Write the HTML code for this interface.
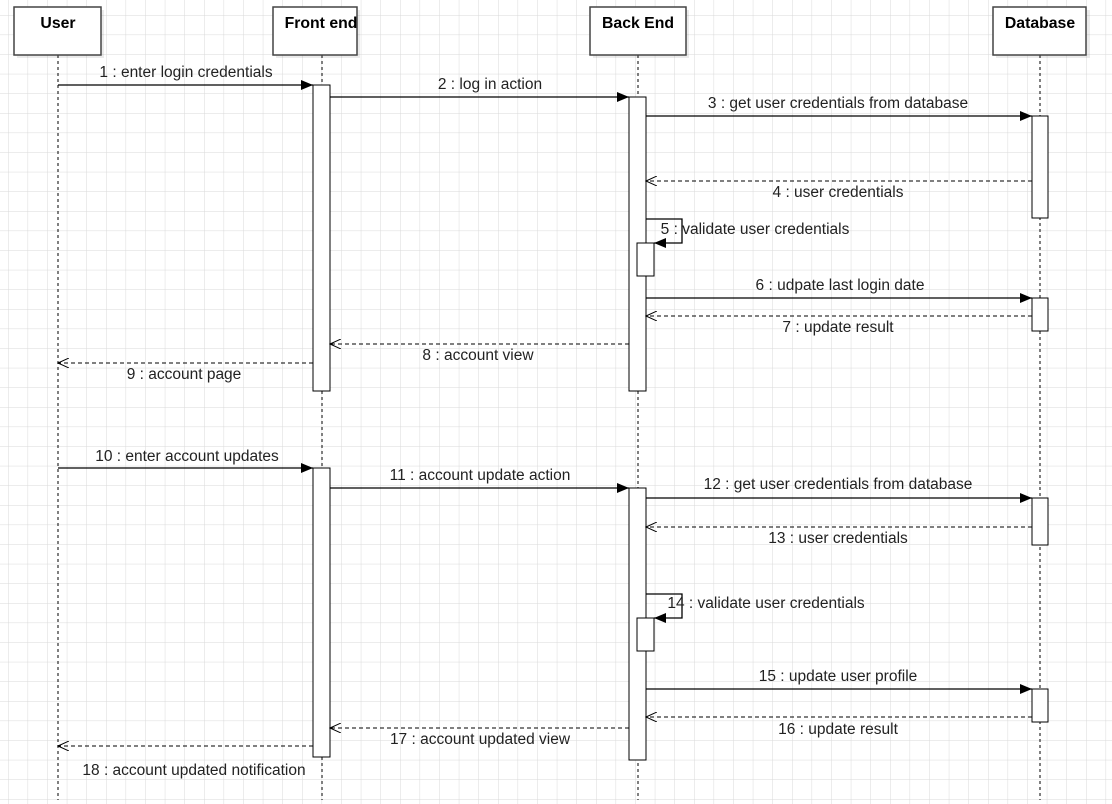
<!DOCTYPE html>
<html><head><meta charset="utf-8"><style>
html,body{margin:0;padding:0;background:#fff}
svg{display:block}
text{font-family:"Liberation Sans",Arial,sans-serif;font-size:15.5px;fill:#222}
.h{font-weight:bold;fill:#000;font-size:15.8px}
</style></head><body>
<svg width="1112" height="804" viewBox="0 0 1112 804">
<defs>
<pattern id="g" x="8" y="15" width="19.6" height="19.6" patternUnits="userSpaceOnUse">
<path d="M0 0H19.6M0 0V19.6" stroke="#d9d9d9" stroke-width="1" fill="none"/>
</pattern>
<marker id="a" markerWidth="12" markerHeight="10" refX="12" refY="5" orient="auto" markerUnits="userSpaceOnUse"><path d="M0 0L12 5L0 10z" fill="#000"/></marker>
<marker id="o" markerWidth="12" markerHeight="10" refX="11" refY="5" orient="auto" markerUnits="userSpaceOnUse"><path d="M0 0L11 5L0 10" fill="none" stroke="#000"/></marker>
</defs>
<rect width="1112" height="804" fill="url(#g)"/>
<g fill="#000" opacity="0.08">
<rect x="17" y="10" width="87" height="48"/><rect x="276" y="10" width="84" height="48"/>
<rect x="593" y="10" width="96" height="48"/><rect x="996" y="10" width="94" height="48"/>
</g>
<g stroke="#000" stroke-width="1" stroke-dasharray="3,3">
<line x1="58" y1="55" x2="58" y2="800"/><line x1="322" y1="55" x2="322" y2="800"/>
<line x1="638" y1="55" x2="638" y2="800"/><line x1="1040" y1="55" x2="1040" y2="800"/>
</g>
<g fill="#fff" stroke="#444" stroke-width="1.5">
<rect x="14" y="7" width="87" height="48"/><rect x="273" y="7" width="84" height="48"/>
<rect x="590" y="7" width="96" height="48"/><rect x="993" y="7" width="93" height="48"/>
</g>
<text class="h" x="58" y="28" text-anchor="middle">User</text>
<text class="h" x="321" y="28" text-anchor="middle">Front end</text>
<text class="h" x="638" y="28" text-anchor="middle">Back End</text>
<text class="h" x="1040" y="28" text-anchor="middle">Database</text>
<g fill="#fff" stroke="#000" stroke-width="1">
<rect x="313" y="85" width="17" height="306"/><rect x="313" y="468" width="17" height="289"/>
<rect x="629" y="97" width="17" height="294"/><rect x="629" y="488" width="17" height="272"/>
<rect x="637" y="243" width="17" height="33"/><rect x="637" y="618" width="17" height="33"/>
<rect x="1032" y="116" width="16" height="102"/><rect x="1032" y="298" width="16" height="33"/>
<rect x="1032" y="498" width="16" height="47"/><rect x="1032" y="689" width="16" height="33"/>
</g>
<g stroke="#000" stroke-width="1.3" fill="none">
<line x1="58" y1="85" x2="313" y2="85" marker-end="url(#a)"/>
<line x1="330" y1="97" x2="629" y2="97" marker-end="url(#a)"/>
<line x1="646" y1="116" x2="1032" y2="116" marker-end="url(#a)"/>
<line x1="646" y1="298" x2="1032" y2="298" marker-end="url(#a)"/>
<line x1="58" y1="468" x2="313" y2="468" marker-end="url(#a)"/>
<line x1="330" y1="488" x2="629" y2="488" marker-end="url(#a)"/>
<line x1="646" y1="498" x2="1032" y2="498" marker-end="url(#a)"/>
<line x1="646" y1="689" x2="1032" y2="689" marker-end="url(#a)"/>
<path d="M646 219H682V243H654" marker-end="url(#a)"/>
<path d="M646 594H682V618H654" marker-end="url(#a)"/>
</g>
<g stroke="#000" stroke-width="1" fill="none" stroke-dasharray="4,3">
<line x1="1032" y1="181" x2="646" y2="181" marker-end="url(#o)"/>
<line x1="1032" y1="316" x2="646" y2="316" marker-end="url(#o)"/>
<line x1="629" y1="344" x2="330" y2="344" marker-end="url(#o)"/>
<line x1="313" y1="363" x2="58" y2="363" marker-end="url(#o)"/>
<line x1="1032" y1="527" x2="646" y2="527" marker-end="url(#o)"/>
<line x1="1032" y1="717" x2="646" y2="717" marker-end="url(#o)"/>
<line x1="629" y1="728" x2="330" y2="728" marker-end="url(#o)"/>
<line x1="313" y1="746" x2="58" y2="746" marker-end="url(#o)"/>
</g>
<g text-anchor="middle">
<text x="186" y="77">1 : enter login credentials</text>
<text x="490" y="89">2 : log in action</text>
<text x="838" y="108">3 : get user credentials from database</text>
<text x="838" y="197">4 : user credentials</text>
<text x="755" y="234">5 : validate user credentials</text>
<text x="840" y="290">6 : udpate last login date</text>
<text x="838" y="332">7 : update result</text>
<text x="478" y="360">8 : account view</text>
<text x="184" y="379">9 : account page</text>
<text x="187" y="461">10 : enter account updates</text>
<text x="480" y="480">11 : account update action</text>
<text x="838" y="489">12 : get user credentials from database</text>
<text x="838" y="543">13 : user credentials</text>
<text x="766" y="608">14 : validate user credentials</text>
<text x="838" y="681">15 : update user profile</text>
<text x="838" y="734">16 : update result</text>
<text x="480" y="744">17 : account updated view</text>
<text x="194" y="775">18 : account updated notification</text>
</g>
</svg>
</body></html>
